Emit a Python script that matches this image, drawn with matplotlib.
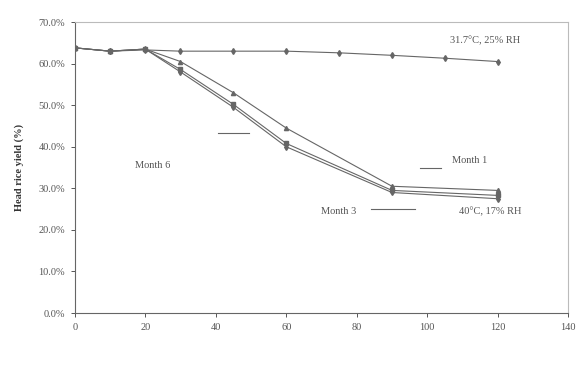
import matplotlib
matplotlib.use("Agg")
import matplotlib.pyplot as plt

plt.rcParams['font.family'] = ['Liberation Serif', 'DejaVu Serif']

# Drying time (min) and head rice yield (%)
time_ref = [0, 10, 20, 30, 45, 60, 75, 90, 105, 120]
hry_ref = [63.8, 63.0, 63.3, 63.0, 63.0, 63.0, 62.6, 62.0, 61.3, 60.5]

time_hot = [0, 10, 20, 30, 45, 60, 90, 120]
hry_month1 = [63.8, 63.0, 63.5, 60.5, 53.0, 44.5, 30.5, 29.5]
hry_month3 = [63.8, 63.0, 63.5, 58.6, 50.2, 40.8, 29.5, 28.3]
hry_month6 = [63.8, 63.0, 63.5, 58.0, 49.5, 40.0, 29.0, 27.5]

x_ticks = [0, 20, 40, 60, 80, 100, 120, 140]
y_ticks = [0, 10, 20, 30, 40, 50, 60, 70]

fig = plt.figure(figsize=(5.84, 3.74), dpi=100)
ax = fig.add_axes([0.128, 0.163, 0.845, 0.778])

line_kw = dict(color='#666666', lw=0.8, markersize=3)
ax.plot(time_ref, hry_ref, marker='d', **line_kw)
ax.plot(time_hot, hry_month1, marker='^', **line_kw)
ax.plot(time_hot, hry_month3, marker='s', **line_kw)
ax.plot(time_hot, hry_month6, marker='d', **line_kw)

ax.set_xlim(0, 140)
ax.set_ylim(0, 70)
ax.set_xticks(x_ticks)
ax.set_yticks(y_ticks)
ax.set_yticklabels([f"{v:.1f}%" for v in y_ticks])
ax.tick_params(labelsize=7.5, length=3, width=0.7, colors='#555555', pad=4)
ax.set_ylabel('Head rice yield (%)', fontsize=7.5, fontweight='bold',
              color='#333333', labelpad=10)

for side in ('top', 'right'):
    ax.spines[side].set_color('#bbbbbb')
    ax.spines[side].set_linewidth(0.8)
for side in ('left', 'bottom'):
    ax.spines[side].set_color('#666666')
    ax.spines[side].set_linewidth(0.8)

txt = dict(fontsize=7.5, color='#555555')
ax.text(116.5, 65.6, '31.7°C, 25% RH', ha='center', va='center', **txt)
ax.text(118, 24.5, '40°C, 17% RH', ha='center', va='center', **txt)
ax.text(22, 35.6, 'Month 6', ha='center', va='center', **txt)
ax.text(112, 36.8, 'Month 1', ha='center', va='center', **txt)
ax.text(75, 24.5, 'Month 3', ha='center', va='center', **txt)

lead = dict(color='#666666', lw=0.8)
ax.plot([40.5, 49.5], [43.3, 43.3], **lead)
ax.plot([98, 104], [34.9, 34.9], **lead)
ax.plot([84, 96.5], [25.0, 25.0], **lead)

fig.savefig('out.png', dpi=100)
